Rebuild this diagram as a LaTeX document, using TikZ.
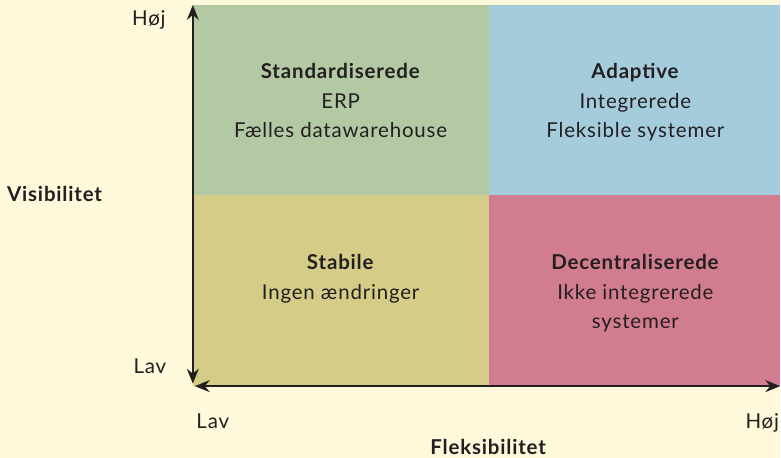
\documentclass[tikz,border=0pt]{standalone}
\usepackage{fontspec}
\setmainfont{Lato}[LetterSpace=4.0]
\usetikzlibrary{arrows.meta}
\definecolor{mycream}{RGB}{255,248,219}
\definecolor{mygreen}{RGB}{179,201,163}
\definecolor{myblue}{RGB}{164,204,221}
\definecolor{myolive}{RGB}{212,204,135}
\definecolor{mypink}{RGB}{210,124,143}
\definecolor{mytext}{RGB}{35,31,32}

\begin{document}
\begin{tikzpicture}[x=1pt, y=-1pt,
    label/.style={text=mytext, inner sep=0pt, font=\fontsize{20.5}{29.3}\selectfont, align=center},
    axislabel/.style={text=mytext, inner sep=0pt, font=\fontsize{20.5}{24}\selectfont},
    axis/.style={draw=mytext, line width=1.5pt, {Stealth[length=15pt, width=12pt, inset=5pt]}-{Stealth[length=15pt, width=12pt, inset=5pt]}}]
    \begin{scope}
        % Background
        \fill[mycream] (0, 0) rectangle (781, 458);
        % Quadrants
        \fill[mygreen] (193, 5) rectangle (489, 195);
        \fill[myblue] (489, 5) rectangle (781, 195);
        \fill[myolive] (193, 195) rectangle (489, 386);
        \fill[mypink] (489, 195) rectangle (781, 386);
        % Axes
        \coordinate (ytop) at (193, 5);
        \coordinate (ybot) at (193, 384);
        \coordinate (xleft) at (195, 386.5);
        \coordinate (xright) at (781, 386.5);
        \draw[axis] (ybot) -- (ytop);
        \draw[axis] (xleft) -- (xright);
        % Quadrant texts (base = last line)
        \node[label, anchor=base] (std) at (341, 137.6) {\textbf{Standardiserede}\\ERP\\Fælles datawarehouse};
        \node[label, anchor=base] (adp) at (636, 137.6) {\textbf{Adaptive}\\Integrerede\\Fleksible systemer};
        \node[label, anchor=base] (stb) at (341, 299.3) {\textbf{Stabile}\\Ingen ændringer};
        \node[label, anchor=base] (dec) at (636, 328.6) {\textbf{Decentraliserede}\\Ikke integrerede\\systemer};
        % Axis labels
        \node[axislabel, anchor=base] (yhigh) at (149, 26) {Høj};
        \node[axislabel, anchor=base] (ylow) at (150, 374) {Lav};
        \node[axislabel, anchor=base] (xlow) at (213, 429) {Lav};
        \node[axislabel, anchor=base] (xhigh) at (763, 429) {Høj};
        \node[label, anchor=base] (ytitle) at (55, 201.5) {\textbf{Visibilitet}};
        \node[label, anchor=base] (xtitle) at (489, 455) {\textbf{Fleksibilitet}};
    \end{scope}
    \useasboundingbox (0, 0) rectangle (781, 458);
\end{tikzpicture}
\end{document}
